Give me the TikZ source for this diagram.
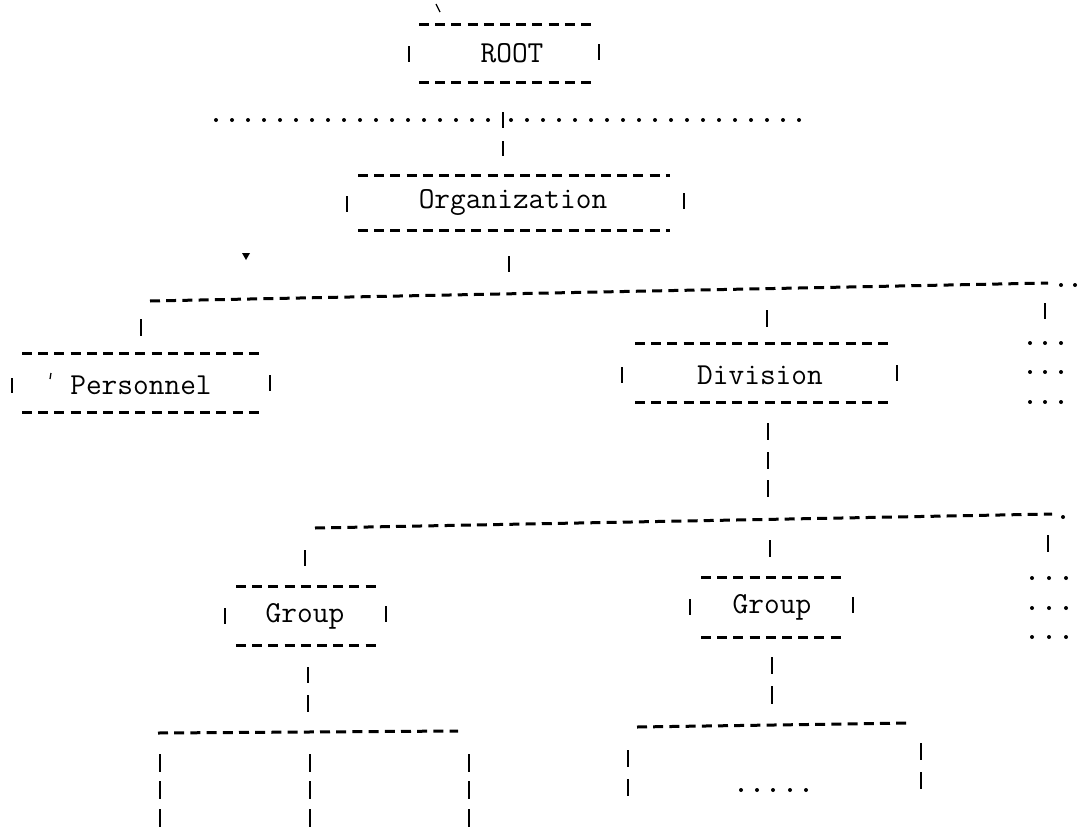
\documentclass[tikz,border=0pt]{standalone}
\begin{document}
\begin{tikzpicture}[x=1pt,y=-1pt,
  lbl/.style={font=\ttfamily\fontsize{30.5}{34}\selectfont, inner sep=0pt, anchor=center},
  boxdash/.style={line width=3pt, dash pattern=on 10pt off 6.2pt},
  dotline/.style={line width=4pt, line cap=round, dash pattern=on 0pt off 16pt},
  bar/.style={line width=1.8pt},
  dotr/.style={radius=2pt}]
\useasboundingbox (0,0) rectangle (1078,835);

% stray marks
\draw[line width=1.3pt] (436,4) -- (440,12);
\fill (242,253) -- (250,253) -- (246,260) -- cycle;
\draw[line width=1.3pt] (51,373) -- (50,379);

% ROOT box
\node[lbl] (root) at (512,53) {ROOT};
\draw[boxdash] (419,24) -- (591,24);
\draw[boxdash] (419,82) -- (591,82);
\draw[bar] (409,46) -- (409,62);
\draw[bar] (599,44) -- (599,60);

% dotted line below ROOT
\draw[dotline] (216,120) -- (495,120);
\draw[dotline] (511,120) -- (814,120);
\draw[bar] (503,112) -- (503,128);
\draw[bar] (503,141) -- (503,156);

% Organization box
\node[lbl] (org) at (513,202) {Organization};
\draw[boxdash] (358,175) -- (670,175);
\draw[boxdash] (358,230) -- (670,230);
\draw[bar] (347,196) -- (347,212);
\draw[bar] (684,193) -- (684,209);
\draw[bar] (509,256) -- (509,272);

% long dashed line level 1
\draw[boxdash] (150,301) -- (1048,283);
\fill[dotr] (1061,285) circle;
\fill[dotr] (1075,285) circle;
\draw[bar] (141,319) -- (141,336);
\draw[bar] (767,310) -- (767,327);
\draw[bar] (1045,303) -- (1045,319);

% Personnel
\node[lbl] (pers) at (141,385) {Personnel};
\draw[boxdash] (22,353) -- (262,353);
\draw[boxdash] (22,412) -- (262,412);
\draw[bar] (12,378) -- (12,393);
\draw[bar] (270,375) -- (270,391);

% Division
\node[lbl] (div) at (760,375) {Division};
\draw[boxdash] (635,343) -- (889,343);
\draw[boxdash] (635,402) -- (889,402);
\draw[bar] (622,367) -- (622,383);
\draw[bar] (897,365) -- (897,381);

% ellipses right, level 1
\foreach \yy in {343,372,402} {
  \foreach \xx in {1030,1045,1061} \fill[dotr] (\xx,\yy) circle;
}

% Division stem
\draw[bar] (768,423) -- (768,440);
\draw[bar] (768,452) -- (768,469);
\draw[bar] (768,480) -- (768,497);

% long dashed line level 2
\draw[boxdash] (315,528) -- (1052,514);
\fill[dotr] (1063,517) circle;
\draw[bar] (305,550) -- (305,566);
\draw[bar] (770,540) -- (770,557);
\draw[bar] (1048,535) -- (1048,552);

\foreach \yy in {578,608,637} {
  \foreach \xx in {1032,1049,1066} \fill[dotr] (\xx,\yy) circle;
}

% left Group
\node[lbl] (g1) at (305,616) {Group};
\draw[boxdash] (236,586) -- (376,586);
\draw[boxdash] (236,645) -- (376,645);
\draw[bar] (225,608) -- (225,624);
\draw[bar] (386,606) -- (386,622);
\draw[bar] (308,667) -- (308,683);
\draw[bar] (308,695) -- (308,712);

% right Group
\node[lbl] (g2) at (772,607) {Group};
\draw[boxdash] (701,577) -- (843,577);
\draw[boxdash] (701,637) -- (843,637);
\draw[bar] (690,599) -- (690,615);
\draw[bar] (853,597) -- (853,613);
\draw[bar] (772,657) -- (772,674);
\draw[bar] (772,686) -- (772,704);

% bottom left branch
\draw[boxdash] (158,733) -- (458,731);
\foreach \xx in {160,310,469} {
  \draw[bar] (\xx,754) -- (\xx,772);
  \draw[bar] (\xx,781) -- (\xx,799);
  \draw[bar] (\xx,809) -- (\xx,827);
}

% bottom right branch
\draw[boxdash] (637,727) -- (910,723);
\draw[bar] (628,750) -- (628,767);
\draw[bar] (628,779) -- (628,796);
\draw[bar] (921,743) -- (921,760);
\draw[bar] (921,772) -- (921,789);
\foreach \xx in {741,757,773,790,806} \fill[dotr] (\xx,790) circle;
\end{tikzpicture}
\end{document}
